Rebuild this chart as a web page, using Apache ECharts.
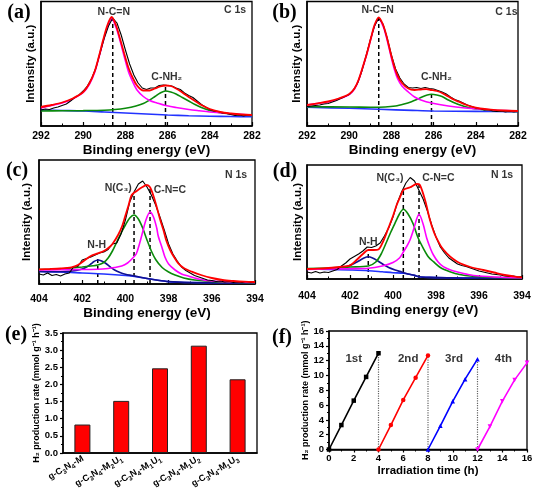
<!DOCTYPE html>
<html><head><meta charset="utf-8">
<script src="https://cdn.jsdelivr.net/npm/echarts@6/dist/echarts.min.js"></script>
<style>html,body{margin:0;padding:0;background:#fff}#c{width:533px;height:491px}</style>
</head><body><div id="c"></div><script>
// ---------- DATA ----------
const c1sX = [292,291.8,291.6,291.4,291.2,291,290.8,290.6,290.4,290.2,290,289.8,289.6,289.4,289.2,289,288.8,288.6,288.4,288.2,288,287.8,287.6,287.4,287.2,287,286.8,286.6,286.4,286.2,286,285.8,285.6,285.4,285.2,285,284.8,284.6,284.4,284.2,284,283.8,283.6,283.4,283.2,283,282.8,282.6,282.4,282.2,282];
const n1sX = [404,403.8,403.6,403.4,403.2,403,402.8,402.6,402.4,402.2,402,401.8,401.6,401.4,401.2,401,400.8,400.6,400.4,400.2,400,399.8,399.6,399.4,399.2,399,398.8,398.6,398.4,398.2,398,397.8,397.6,397.4,397.2,397,396.8,396.6,396.4,396.2,396,395.8,395.6,395.4,395.2,395,394.8,394.6,394.4,394.2,394];

// (a) C 1s
const aBlack = [16,17,16.5,18,19,20.5,22,25,28.5,31,35,40,47.5,58,73,88,100,108,103,91,76,62,51,43,38,36.5,38,38,40.5,41,40.5,40,38,36.5,33,30.5,28.5,25,21.5,19,16.5,15,14.5,13,12.5,11.5,10.5,11,10,11,10.5];
const aRed = [[292,19],[291.5,21],[291,23.5],[290.5,27.5],[290,34],[289.7,43],[289.45,55],[289.25,70],[289.05,86.5],[288.85,101],[288.65,109],[288.45,101],[288.25,87],[288.05,72],[287.85,58],[287.65,48],[287.45,40.5],[287.15,35.5],[286.85,35.5],[286.6,37.5],[286.35,39.5],[286.1,40.5],[285.85,40],[285.6,37.5],[285.3,33.5],[285,29],[284.7,25],[284.4,21],[284,17],[283.5,14],[283,12.5],[282.5,11.5],[282,11]];
const aMagenta = [[292,18],[291.5,20.5],[291,23],[290.5,27],[290,33.5],[289.7,42],[289.45,54],[289.25,69],[289.05,85],[288.85,99],[288.65,107.5],[288.45,99],[288.25,85],[288.05,69],[287.85,54],[287.65,44],[287.45,36],[287.15,29.5],[286.85,25.5],[286.5,23],[286.1,20.5],[285.6,18.5],[285,16.5],[284.5,15.2],[284,14],[283,12.3],[282,11]];
const aGreen = [[292,15],[291,15.2],[290,15.4],[289,15.8],[288.5,16.5],[288,17.8],[287.5,20],[287.15,22.5],[286.85,26],[286.6,29.5],[286.35,33],[286.1,35],[285.85,34],[285.6,32],[285.3,28.5],[285,25],[284.7,21.5],[284.4,18.5],[284,15.5],[283.5,13.3],[283,12],[282.5,11],[282,10.5]];
const aBlue = [[292,16],[291,15.5],[290,15],[289,14],[288,13],[287,12],[286,11],[285,10.3],[284,9.8],[283,9.5],[282,9.3]];
const aLabels = [[288.55,114,'N-C=N'],[286.04,49,'C-NH₂'],[282.8,116,'C 1s']];
const aDash = [[288.6,108],[286.1,40]];

// (b) C 1s
const bBlack = [19.5,20,20.5,21,22,22.5,24,25.5,27.5,29.5,31.5,36,43,55,70,86,100,108,102,88,71,57,48,42,38.5,38,38.5,37.5,38.5,37.5,37,35.5,34,32,29,26.5,25,23,21,19.5,18,17.5,16,16.5,15,14.5,15,14,14.5,14,14.5];
const bRed = [[292,21],[291.5,22.7],[291,24.5],[290.5,27.5],[290,32],[289.75,37.5],[289.55,46.5],[289.35,59.5],[289.15,73.5],[288.95,89.5],[288.8,101],[288.6,108.7],[288.4,101.5],[288.25,91.5],[288,70],[287.85,58.5],[287.7,50],[287.5,43],[287.2,37.5],[286.9,36],[286.6,36.5],[286.35,36.8],[286.1,36],[285.85,35],[285.6,33],[285.3,29.5],[285,26],[284.8,24.3],[284.5,21.5],[284.2,19.3],[283.8,17.5],[283.3,16.3],[282.7,15.5],[282,15]];
const bMagenta = [[292,21],[291.5,22.5],[291,24],[290.5,27],[290,31.5],[289.75,37],[289.55,46],[289.35,59],[289.15,73],[288.95,89],[288.8,100],[288.6,107.5],[288.4,100],[288.25,90],[288,68],[287.85,56],[287.7,47],[287.5,40],[287.2,34],[286.9,29],[286.6,26],[286.1,23],[285.3,20],[284.5,18],[283.7,16.7],[283,15.8],[282,15]];
const bGreen = [[292,19.3],[290,19],[289,18.8],[288.3,19],[287.8,20],[287.4,22],[287.05,24.3],[286.8,26.5],[286.55,29],[286.3,31],[286.1,31.7],[285.85,31],[285.6,29.5],[285.3,26],[284.85,21.7],[284.5,19.3],[284.2,17.7],[283.5,16],[283,15.3],[282,14.6]];
const bBlue = [[292,18.7],[290,17.7],[288.6,16.7],[287,15.6],[286,15],[284,14.6],[282,14.3]];
const bLabels = [[288.65,116,'N-C=N'],[285.87,49,'C-NH₂'],[282.55,114,'C 1s']];
const bDash = [[288.6,108],[286.1,36]];

// (c) N 1s
const cBlack = [10,9,11,8.5,9.5,8,10,11,17,17.5,24,25.5,27,29,31,32,34.5,40,41,50,64,82,92,100,103,97,89,79,67,54,40,30,23,17,13.5,11,8.5,7,5.5,4,3.5,2.5,3,2,2.5,1.5,2,1.5,2.5,1.5,2];
const cRed = [[404,14.7],[403.5,15],[403,15.5],[402.5,16.7],[402.2,19],[401.87,24],[401.6,28],[401.28,30.7],[401,33],[400.79,36],[400.6,40],[400.34,49],[400.15,58],[400.02,67],[399.85,79],[399.71,89],[399.48,93],[399.25,96.5],[399.01,99],[398.86,96.7],[398.7,88],[398.55,77],[398.4,65],[398.24,54],[398.1,43],[397.93,34],[397.75,27],[397.55,20.7],[397.3,16],[396.93,12.3],[396.5,9],[396,6],[395.5,4],[395,3],[394.5,2.3],[394,2]];
const cGreen = [[404,14.5],[403,15],[402.5,16],[402,17],[401.5,18.2],[401.28,19],[401,21.5],[400.8,26],[400.6,33],[400.4,42],[400.2,51],[400,59],[399.8,66],[399.6,69],[399.4,65],[399.2,56],[399,44],[398.8,33],[398.6,24.5],[398.3,16.5],[398,12],[397.7,9],[397.3,6],[396.8,4],[396,2.5],[395,1.7],[394,1.3]];
const cMagenta = [[404,14],[403,14.2],[402,14.5],[401.28,14.7],[400.8,15.5],[400.5,16.5],[400.17,18],[399.9,21],[399.7,25],[399.5,30],[399.35,40],[399.2,52],[399.05,64],[398.86,72],[398.7,67],[398.55,56],[398.48,48],[398.3,36],[398.17,27],[398,20],[397.7,14],[397.4,10],[397.09,8],[396.5,4.5],[396,3],[395,2],[394,1.5]];
const cNavy = [[404,12.5],[403,12.2],[402.6,12.6],[402.3,13.5],[402,15],[401.8,17],[401.6,20],[401.45,22.5],[401.28,24],[401.1,23],[400.9,20.5],[400.7,17],[400.5,14],[400.25,11.5],[400,9.8],[399.7,8.5],[399.4,7.2],[399,5.5],[398.5,3.7],[398,2.4],[397,1.5],[396,1.3],[394,1.2]];
const cBlue = [[404,12.5],[403,12],[402,11],[401,10],[400,8.5],[399.5,7.3],[399,5.5],[398.5,3.7],[398,2.4],[397.5,1.8],[397,1.5],[396,1.3],[394,1.2]];
const cLabels = [[400.33,96,'N(C₃)'],[397.94,94,'C-N=C'],[401.33,39,'N-H'],[394.88,109,'N 1s']];
const cDash = [[401.28,26],[399.6,91],[398.86,95]];

// (d) N 1s
const dBlack = [7,6,7.5,6,7,6.5,8,9.5,13,16,20,22.5,25,28,32,31.5,33,36,43,51,62,76,87,96,101.5,98,89,80,68,54,42,32,26,21,18,15,13.5,12.5,11,9.5,8,7,6,5,4.5,4,3,2.5,3,2,2.5];
const dRed = [[404,10],[403.5,10.3],[403,11],[402.5,12],[402,13.7],[401.7,19],[401.4,25],[401.15,29],[400.9,29],[400.68,29.5],[400.45,38],[400.22,50.7],[400,63],[399.83,74],[399.65,83],[399.52,89],[399.2,91.7],[398.9,95],[398.75,94],[398.51,79],[398.28,59],[398.1,47],[397.97,40.7],[397.75,32],[397.5,25.7],[397.2,20],[396.88,15.7],[396.4,12],[395.8,9],[395.3,6.5],[394.8,4],[394.4,2.7],[394,1.7]];
const dGreen = [[404,10.5],[403,11],[402,12],[401.15,13],[400.8,17],[400.55,25],[400.3,37],[400.1,47],[399.91,55.7],[399.7,65],[399.52,69.7],[399.3,65],[399.06,55],[398.85,42],[398.59,30.7],[398.35,22],[398.12,17.3],[397.8,11.5],[397.35,7.3],[396.9,4.5],[396.3,2.8],[395.5,1.8],[394,1.2]];
const dMagenta = [[404,9.5],[403,10],[402,10.3],[401.15,10.7],[400.5,13],[400,16.5],[399.7,21],[399.52,27],[399.35,33],[399.21,39],[399.05,49],[398.9,60],[398.79,64.7],[398.6,55],[398.43,40.7],[398.25,30],[398.12,24],[397.9,17],[397.66,12.3],[397.35,9.3],[397.04,7.3],[396.5,4.5],[396,3],[395,1.8],[394,1.2]];
const dNavy = [[404,10],[403,9.8],[402.5,10.5],[402.2,12],[401.9,14.5],[401.6,18],[401.35,21],[401.15,22.3],[400.95,21],[400.7,18],[400.45,14.5],[400.2,11.5],[399.9,9],[399.6,7],[399.3,5],[399,3.6],[398.79,2.3],[398.3,1.6],[397.5,1.2],[396,0.9],[394,0.7]];
const dBlue = [[404,10],[403,9.6],[402,9],[401.15,8.3],[400.5,7.2],[400,6.3],[399.5,5.7],[399,3.6],[398.79,2.3],[398.3,1.6],[397.5,1.2],[396,0.9],[394,0.7]];
const dLabels = [[400.14,101,'N(C₃)'],[397.89,101,'C-N=C'],[401.15,37,'N-H'],[394.93,104,'N 1s']];
const dDash = [[401.15,25],[399.52,88],[398.79,94]];

// (e) bars
const eCats = ['g-C₃N₄-M','g-C₃N₄-M₂U₁','g-C₃N₄-M₁U₁','g-C₃N₄-M₁U₂','g-C₃N₄-M₁U₃'];
const eVals = [0.83,1.52,2.47,3.13,2.15];
const eTicks = [0,0.5,1,1.5,2,2.5,3,3.5];

// (f) cycles
const f1 = [[0,0],[1,3.3],[2,6.6],[3,9.8],[4,13.0]];
const f2 = [[4,0],[5,3.3],[6,6.7],[7,9.7],[8,12.7]];
const f3 = [[8,0],[9,3.2],[10,6.5],[11,9.5],[12,12.2]];
const f4 = [[12,0],[13,3.1],[14,6.5],[15,9.4],[16,11.7]];
const fDiv = [[4,13.0],[8,12.7],[12,12.2]];
const fLabels = [[2,12.3,'1st'],[6.4,12.3,'2nd'],[10.1,12.3,'3rd'],[14.1,12.3,'4th']];

// ---------- BUILD ----------
const FONT = "'Liberation Sans', Arial, Helvetica, sans-serif";
const SERIF = "'Liberation Serif', 'Times New Roman', serif";
const AX = {color:'#000', width:1.5};
const grids = [
  {left:41, top:1.5, width:211, height:124.5},
  {left:307, top:1.5, width:211, height:124.5},
  {left:39, top:160, width:216, height:124},
  {left:307, top:165, width:215, height:114},
  {left:63, top:333, width:194, height:120},
  {left:329, top:331, width:198, height:118.5}
].map(g => Object.assign({show:true, borderColor:'#000', borderWidth:1.3, backgroundColor:'transparent', containLabel:false, outerBoundsMode:'none'}, g));

function xpsX(gi, min, max, margin, nameGap){
  return {type:'value', gridIndex:gi, min, max, interval:2, inverse:true,
    axisLine:{show:true, onZero:false, lineStyle:AX},
    axisTick:{show:true, inside:true, length:4, lineStyle:{color:'#000', width:1.2}},
    minorTick:{show:true, splitNumber:2, length:2.5, lineStyle:{color:'#000', width:1}},
    axisLabel:{margin, fontSize:10.5, fontWeight:'bold', color:'#000', fontFamily:FONT},
    splitLine:{show:false}, minorSplitLine:{show:false},
    name:'Binding energy (eV)', nameLocation:'middle', nameGap,
    nameTextStyle:{fontSize:13.5, fontWeight:'bold', color:'#000', fontFamily:FONT}};
}
function xpsY(gi, max, nameGap){
  return {type:'value', gridIndex:gi, min:0, max,
    axisLine:{show:true, onZero:false, lineStyle:AX},
    axisTick:{show:false}, axisLabel:{show:false}, splitLine:{show:false},
    name:'Intensity (a.u.)', nameLocation:'middle', nameGap,
    nameTextStyle:{fontSize:11.5, fontWeight:'bold', color:'#000', fontFamily:FONT}};
}
function curve(gi, data, color, width, smooth, z){
  return {type:'line', xAxisIndex:gi, yAxisIndex:gi, data, symbol:'none', smooth: smooth ? 0.3 : false,
    lineStyle:{color, width}, z, silent:true, animation:false};
}
function zipX(xs, ys){ return xs.map((x,i)=>[x, ys[i]]); }
function dashes(gi, arr, color, type, width){
  return arr.map(d => ({type:'line', xAxisIndex:gi, yAxisIndex:gi, data:[[d[0],0],[d[0],d[1]]], symbol:'none',
    lineStyle:{color, width, type}, z:1, silent:true, animation:false}));
}
function labels(gi, arr, size){
  return {type:'scatter', xAxisIndex:gi, yAxisIndex:gi, symbolSize:1, itemStyle:{color:'rgba(0,0,0,0)'},
    data: arr.map(d => ({value:[d[0], d[1]], label:{formatter:d[2]}})),
    label:{show:true, position:'inside', fontSize:size, fontWeight:'bold', color:'#000', fontFamily:FONT},
    z:10, silent:true, animation:false};
}
// turn unicode subscript digits into rich-text subscript fragments
const SUBS = '₀₁₂₃₄₅₆₇₈₉';
function richSub(s){
  let out = '', buf = '';
  for (const ch of s){
    const k = SUBS.indexOf(ch);
    if (k >= 0){ if (buf){ out += '{n|' + buf + '}'; buf=''; } out += '{s|' + k + '}'; }
    else buf += ch;
  }
  if (buf) out += '{n|' + buf + '}';
  return out;
}
const series = [];
function xpsPanel(gi, black, red, magenta, green, blue, navy, lab, dash){
  series.push(...dashes(gi, dash, '#000', [4,3], 1.5));
  series.push(curve(gi, blue, '#2233ff', 1.6, true, 2));
  if (navy) series.push(curve(gi, navy, '#101090', 1.6, true, 2));
  series.push(curve(gi, green, '#0a8a0a', 1.6, true, 3));
  series.push(curve(gi, magenta, '#ff00ff', 1.6, true, 3));
  series.push(curve(gi, black, '#000', 1.1, false, 4));
  series.push(curve(gi, red, '#ff0000', 1.8, true, 5));
  series.push(labels(gi, lab, 10.5));
}
xpsPanel(0, zipX(c1sX, aBlack), aRed, aMagenta, aGreen, aBlue, null, aLabels, aDash);
xpsPanel(1, zipX(c1sX, bBlack), bRed, bMagenta, bGreen, bBlue, null, bLabels, bDash);
xpsPanel(2, zipX(n1sX, cBlack), cRed, cMagenta, cGreen, cBlue, cNavy, cLabels, cDash);
xpsPanel(3, zipX(n1sX, dBlack), dRed, dMagenta, dGreen, dBlue, dNavy, dLabels, dDash);

// (e)
series.push({type:'bar', xAxisIndex:4, yAxisIndex:4, data: eVals, barWidth:16,
  itemStyle:{color:'#ff0000', borderColor:'#222', borderWidth:1}, animation:false, silent:true});
// (f)
series.push(...dashes(5, fDiv, '#666', 'dotted', 1.2));
const fCols = ['#000','#ff0000','#0000ff','#ff00ff'];
const fSym = ['rect','circle','triangle','triangle'];
[f1,f2,f3,f4].forEach((d,i)=>{
  series.push({type:'line', xAxisIndex:5, yAxisIndex:5, data:d, symbol:fSym[i], symbolSize:4.5,
    symbolRotate: i===3 ? 180 : 0,
    lineStyle:{color:fCols[i], width:1.6}, itemStyle:{color:fCols[i]}, z:3, animation:false, silent:true});
});
series.push(labels(5, fLabels, 11.5));

const H2NAME = 'H₂ production rate (mmol g⁻¹ h⁻¹)';
const xAxis = [
  xpsX(0, 282, 292, 5, 14),
  xpsX(1, 282, 292, 5, 14),
  xpsX(2, 394, 404, 10, 17),
  xpsX(3, 394, 404, 12, 23),
  {type:'category', gridIndex:4, data:eCats, boundaryGap:true,
    axisLine:{show:true, onZero:false, lineStyle:AX}, axisTick:{show:false},
    axisLabel:{interval:0, rotate:30, margin:4, color:'#000', fontFamily:FONT,
      formatter: v => richSub(v),
      rich:{
        n:{fontSize:9, fontWeight:'bold', fontFamily:FONT, color:'#000', lineHeight:11, verticalAlign:'bottom'},
        s:{fontSize:6.5, fontWeight:'bold', fontFamily:FONT, color:'#000', lineHeight:11, verticalAlign:'bottom', padding:[0,0,-2,0]}
      }},
    splitLine:{show:false}},
  {type:'value', gridIndex:5, min:0, max:16, interval:2,
    axisLine:{show:true, onZero:false, lineStyle:AX},
    axisTick:{show:true, length:3, lineStyle:{color:'#000', width:1.2}},
    minorTick:{show:true, splitNumber:2, length:2, lineStyle:{color:'#000'}},
    axisLabel:{margin:4, fontSize:9.5, fontWeight:'bold', color:'#000', fontFamily:FONT},
    splitLine:{show:false},
    name:'Irradiation time (h)', nameLocation:'middle', nameGap:12,
    nameTextStyle:{fontSize:11.5, fontWeight:'bold', color:'#000', fontFamily:FONT}}
];
const yAxis = [
  xpsY(0, 124.5, 4.5),
  xpsY(1, 124.5, 4),
  xpsY(2, 124, 6.5),
  xpsY(3, 114, 3),
  {type:'value', gridIndex:4, min:eTicks[0], max:eTicks[eTicks.length-1], interval:eTicks[1]-eTicks[0],
    axisLine:{show:true, onZero:false, lineStyle:AX},
    axisTick:{show:true, length:3, lineStyle:{color:'#000', width:1.2}},
    minorTick:{show:true, splitNumber:2, length:2, lineStyle:{color:'#000'}},
    axisLabel:{margin:5, fontSize:9.5, fontWeight:'bold', color:'#000', fontFamily:FONT, formatter: v => v.toFixed(1)},
    splitLine:{show:false},
    name:H2NAME, nameLocation:'middle', nameGap:21,
    nameTextStyle:{fontSize:9, fontWeight:'bold', color:'#000', fontFamily:FONT}},
  {type:'value', gridIndex:5, min:0, max:16, interval:2,
    axisLine:{show:true, onZero:false, lineStyle:AX},
    axisTick:{show:true, length:3, lineStyle:{color:'#000', width:1.2}},
    minorTick:{show:true, splitNumber:2, length:2, lineStyle:{color:'#000'}},
    axisLabel:{margin:5, fontSize:9.5, fontWeight:'bold', color:'#000', fontFamily:FONT},
    splitLine:{show:false},
    name:H2NAME, nameLocation:'middle', nameGap:15,
    nameTextStyle:{fontSize:9, fontWeight:'bold', color:'#000', fontFamily:FONT}}
];
function panelTag(t, x, y){
  return {type:'text', x, y, silent:true, style:{text:t, fontSize:20, fontWeight:'bold', fontFamily:SERIF,
    fill:'#000', align:'center', verticalAlign:'middle'}};
}
const chart = echarts.init(document.getElementById('c'));
chart.setOption({
  backgroundColor:'#fff', animation:false,
  textStyle:{fontFamily:FONT},
  grid: grids, xAxis, yAxis, series,
  graphic:[panelTag('(a)',19,12.5), panelTag('(b)',284.5,12.5), panelTag('(c)',17,171),
    panelTag('(d)',285,172), panelTag('(e)',16,335), panelTag('(f)',282,338)]
});
</script></body></html>
